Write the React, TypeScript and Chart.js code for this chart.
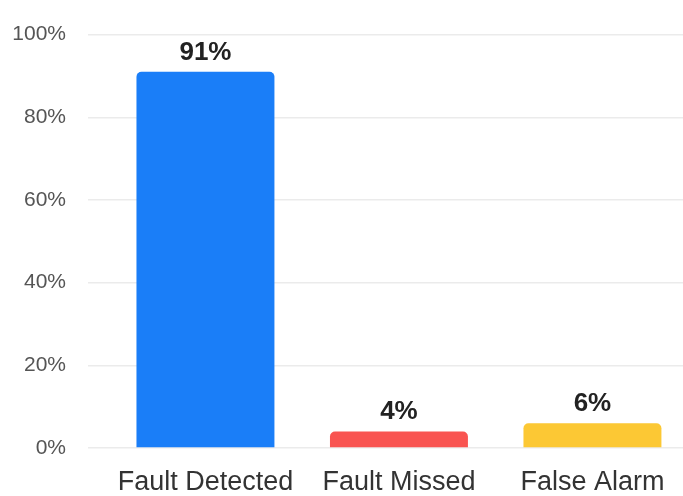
import React, { useEffect, useRef } from "react";
import { Chart, registerables } from "chart.js";

Chart.register(...registerables);

// Detection outcome shares, in percent
const categories = ["Fault Detected", "Fault Missed", "False Alarm"];
const rates = [91, 4, 6];
const slots = [0, 1, 2];
const barColors = ["#1a7ef8", "#f95451", "#fcc834"];
const yTickValues = [0, 20, 40, 60, 80, 100];

const FONT = "'Liberation Sans', Arial, Helvetica, sans-serif";

// Writes each bar's value above it
const valueLabels = {
  id: "valueLabels",
  afterDatasetsDraw(chart: any) {
    const { ctx } = chart;
    const meta = chart.getDatasetMeta(0);
    ctx.save();
    ctx.font = `bold 26px ${FONT}`;
    ctx.fillStyle = "#222222";
    ctx.textAlign = "center";
    ctx.textBaseline = "alphabetic";
    meta.data.forEach((bar: any, i: number) => {
      ctx.fillText(`${rates[i]}%`, bar.x, bar.y - 12);
    });
    ctx.restore();
  },
};

export default function App() {
  const canvasRef = useRef<HTMLCanvasElement | null>(null);

  useEffect(() => {
    document.body.style.margin = "0";
    document.body.style.overflow = "hidden";
    const canvas = canvasRef.current;
    if (!canvas) return;

    const chart = new Chart(canvas, {
      type: "bar",
      data: {
        datasets: [
          {
            data: rates.map((v, i) => ({ x: slots[i], y: v })),
            backgroundColor: barColors,
            borderRadius: { topLeft: 5, topRight: 5, bottomLeft: 0, bottomRight: 0 },
            borderSkipped: "start",
            barPercentage: 0.713,
            categoryPercentage: 1,
          },
        ],
      },
      options: {
        animation: false,
        responsive: false,
        devicePixelRatio: 1,
        layout: { padding: { top: 23, right: 0, bottom: 0, left: 0 } },
        plugins: {
          legend: { display: false },
          title: { display: false },
          tooltip: { enabled: false },
        },
        scales: {
          x: {
            type: "linear",
            min: -0.607,
            max: 2.468,
            offset: false,
            grid: { display: false, offset: false, drawTicks: false },
            border: { display: false },
            afterFit(axis: any) {
              axis.height = 48;
            },
            afterBuildTicks(axis: any) {
              axis.ticks = slots.map((v) => ({ value: v }));
            },
            ticks: {
              autoSkip: false,
              maxRotation: 0,
              padding: 18,
              color: "#333333",
              font: { family: FONT, size: 27 },
              callback: (v: any) => categories[slots.indexOf(Number(v))] ?? "",
            },
          },
          y: {
            min: 0,
            max: 100,
            afterFit(axis: any) {
              axis.width = 88;
            },
            afterBuildTicks(axis: any) {
              axis.ticks = yTickValues.map((v) => ({ value: v }));
            },
            grid: { color: "#ebebeb", lineWidth: 1.5, drawTicks: false },
            border: { display: false },
            ticks: {
              padding: 22,
              color: "#555555",
              font: { family: FONT, size: 21 },
              callback: (v: any) => `${v}%`,
            },
          },
        },
      },
      plugins: [valueLabels],
    });

    return () => chart.destroy();
  }, []);

  return (
    <div style={{ width: 683, height: 496, background: "#ffffff" }}>
      <canvas ref={canvasRef} width={683} height={496} />
    </div>
  );
}
